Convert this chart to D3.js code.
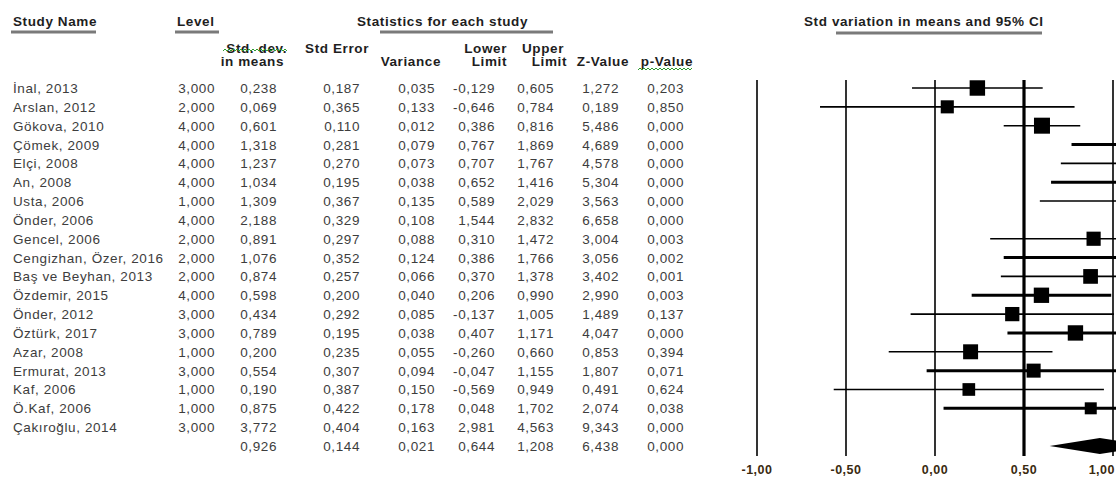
<!DOCTYPE html>
<html><head><meta charset="utf-8">
<script src="https://cdn.jsdelivr.net/npm/d3@7"></script>
<style>
html,body{margin:0;padding:0;background:#fff;}
svg{display:block;font-family:"Liberation Sans",Arial,sans-serif;}
</style></head>
<body>
<svg id="chart" width="1116" height="477"></svg>
<script>
const studies = ["İnal, 2013","Arslan, 2012","Gökova, 2010","Çömek, 2009","Elçi, 2008","An, 2008","Usta, 2006","Önder, 2006","Gencel, 2006","Cengizhan, Özer, 2016","Baş ve Beyhan, 2013","Özdemir, 2015","Önder, 2012","Öztürk, 2017","Azar, 2008","Ermurat, 2013","Kaf, 2006","Ö.Kaf, 2006","Çakıroğlu, 2014"];
const levels = [3,2,4,4,4,4,1,4,2,2,2,4,3,3,1,3,1,1,3];
const stdDiff = [0.238,0.069,0.601,1.318,1.237,1.034,1.309,2.188,0.891,1.076,0.874,0.598,0.434,0.789,0.200,0.554,0.190,0.875,3.772];
const stdErr = [0.187,0.365,0.110,0.281,0.270,0.195,0.367,0.329,0.297,0.352,0.257,0.200,0.292,0.195,0.235,0.307,0.387,0.422,0.404];
const variance = [0.035,0.133,0.012,0.079,0.073,0.038,0.135,0.108,0.088,0.124,0.066,0.040,0.085,0.038,0.055,0.094,0.150,0.178,0.163];
const lower = [-0.129,-0.646,0.386,0.767,0.707,0.652,0.589,1.544,0.310,0.386,0.370,0.206,-0.137,0.407,-0.260,-0.047,-0.569,0.048,2.981];
const upper = [0.605,0.784,0.816,1.869,1.767,1.416,2.029,2.832,1.472,1.766,1.378,0.990,1.005,1.171,0.660,1.155,0.949,1.702,4.563];
const zValue = [1.272,0.189,5.486,4.689,4.578,5.304,3.563,6.658,3.004,3.056,3.402,2.990,1.489,4.047,0.853,1.807,0.491,2.074,9.343];
const pValue = [0.203,0.850,0.000,0.000,0.000,0.000,0.000,0.000,0.003,0.002,0.001,0.003,0.137,0.000,0.394,0.071,0.624,0.038,0.000];
const summary = {stdDiff:0.926, stdErr:0.144, variance:0.021, lower:0.644, upper:1.208, z:6.438, p:0.000};
const tickValues = [-1, -0.5, 0, 0.5, 1];

const svg = d3.select("#chart");
const fmt = v => d3.format(".3f")(v).replace("\u2212", "-").replace(".", ",");
const fmtTick = v => d3.format(".2f")(v).replace("\u2212", "-").replace(".", ",");

const rowY = d3.scalePoint().domain(d3.range(studies.length + 1)).range([88, 446]);
const x = d3.scaleLinear().domain([-1, 1]).range([757, 1113]);
const sq = d3.scaleLinear().domain([0.012, 0.178]).range([16, 12]);

const dataCol = "#3d3d3d";
const headCol = "#1e1e1e";
const LS = 0.6;

function head(txt, xx, yy, anchor) {
  svg.append("text").attr("x", xx).attr("y", yy).attr("text-anchor", anchor || "start")
    .attr("font-size", 13.5).attr("font-weight", "bold").attr("letter-spacing", LS)
    .attr("fill", headCol).text(txt);
}
function uline(x1, x2, yy) {
  svg.append("line").attr("x1", x1).attr("x2", x2).attr("y1", yy).attr("y2", yy)
    .attr("stroke", "#7a7a7a").attr("stroke-width", 3);
}
head("Study Name", 13, 26); uline(11, 96, 32);
head("Level", 177, 26); uline(175, 219, 32);
head("Statistics for each study", 357, 26); uline(380, 553, 32);
head("Std variation  in means  and 95% CI", 804, 26); uline(836, 1042, 33);

const sub = [
  ["Std. dev.", 287, 53], ["in means", 284, 66],
  ["Std Error", 369, 53], ["Variance", 441, 66],
  ["Lower", 507, 53], ["Limit", 507, 66],
  ["Upper", 564, 53], ["Limit", 567, 66],
  ["Z-Value", 629, 66], ["p-Value", 693, 66]
];
sub.forEach(s => head(s[0], s[1], s[2], "end"));

function squiggle(x1, x2, yy) {
  const pts = [];
  for (let xx = x1, k = 0; xx <= x2; xx += 2, k++) pts.push([xx, yy + (k % 2 ? -1 : 1)]);
  svg.append("path").attr("d", d3.line()(pts)).attr("fill", "none").attr("stroke", "#2e9a2e").attr("stroke-width", 1);
}
squiggle(223, 287, 50);
squiggle(638, 692, 69);

const cols = [
  {arr: levels.map(v => d3.format(".3f")(v).replace(".", ",")), x: 215},
  {arr: stdDiff.map(fmt), x: 277},
  {arr: stdErr.map(fmt), x: 360},
  {arr: variance.map(fmt), x: 435},
  {arr: lower.map(fmt), x: 495},
  {arr: upper.map(fmt), x: 554},
  {arr: zValue.map(fmt), x: 619},
  {arr: pValue.map(fmt), x: 684}
];
const sumVals = [null, fmt(summary.stdDiff), fmt(summary.stdErr), fmt(summary.variance), fmt(summary.lower), fmt(summary.upper), fmt(summary.z), fmt(summary.p)];

const g = svg.append("g").attr("font-size", 13.5).attr("letter-spacing", LS).attr("fill", dataCol);
studies.forEach((name, i) => {
  const yy = rowY(i) + 5;
  g.append("text").attr("x", 13).attr("y", yy).text(name);
  cols.forEach(c => g.append("text").attr("x", c.x).attr("y", yy).attr("text-anchor", "end").text(c.arr[i]));
});
cols.forEach((c, j) => {
  if (sumVals[j]) g.append("text").attr("x", c.x).attr("y", rowY(studies.length) + 5).attr("text-anchor", "end").text(sumVals[j]);
});

const plot = svg.append("g");
tickValues.forEach((t, k) => {
  plot.append("line").attr("x1", x(t)).attr("x2", x(t)).attr("y1", 80).attr("y2", 456)
    .attr("stroke", "#000").attr("stroke-width", t === 0.5 ? 3.2 : 1.6);
  const last = k === tickValues.length - 1;
  svg.append("text").attr("x", last ? 1115 : x(t)).attr("y", 474)
    .attr("text-anchor", last ? "end" : "middle")
    .attr("font-size", 12.5).attr("font-weight", "bold").attr("letter-spacing", 0.5)
    .attr("fill", "#3a2a10").text(fmtTick(t));
});

const xMax = x.domain()[1];
studies.forEach((name, i) => {
  const yy = rowY(i);
  const x1 = Math.max(x(lower[i]), 0), x2 = Math.min(x(upper[i]), 1116);
  if (x1 < 1116) {
    plot.append("line").attr("x1", x1).attr("x2", x2).attr("y1", yy).attr("y2", yy)
      .attr("stroke", "#000").attr("stroke-width", (i % 2 === 1 && i > 1) ? 3 : 1.6);
  }
  if (stdDiff[i] <= xMax) {
    const s = sq(variance[i]);
    plot.append("rect").attr("x", x(stdDiff[i]) - s / 2).attr("y", yy - s / 2)
      .attr("width", s).attr("height", s).attr("fill", "#000");
  }
});

const sy = rowY(studies.length);
plot.append("path")
  .attr("d", `M${x(summary.lower)},${sy} L${x(summary.stdDiff)},${sy - 8} L${x(summary.upper)},${sy} L${x(summary.stdDiff)},${sy + 8} Z`)
  .attr("fill", "#000");
</script>
</body></html>
